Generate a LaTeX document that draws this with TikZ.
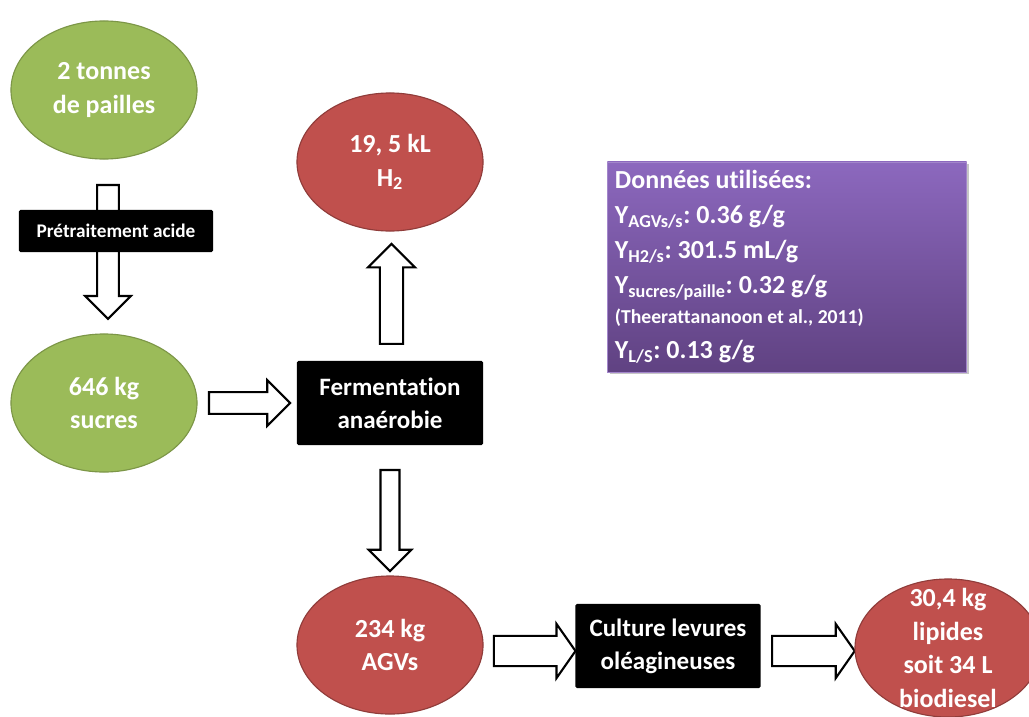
\documentclass[tikz,border=0pt]{standalone}
\usepackage{fontspec}
\setmainfont{Carlito}[Ligatures=NoCommon]
\usetikzlibrary{shapes.geometric, shapes.arrows, shadows, calc, backgrounds}
\definecolor{strawgreen}{HTML}{9BBB59}
\definecolor{prodred}{HTML}{C0504D}
\definecolor{datatop}{RGB}{140,104,190}
\definecolor{databot}{RGB}{96,66,130}
\frenchspacing
\tikzset{
  bio green/.style={
    ellipse, draw=strawgreen!80!black, fill=strawgreen, line width=0.8pt,
    minimum width=4.65cm, minimum height=3.45cm, inner sep=0pt,
    text=white, align=center,
    font=\fontsize{18.5}{24}\selectfont\bfseries
  },
  bio red/.style={
    bio green, draw=prodred!75!black, fill=prodred
  },
  proc box/.style={
    rectangle, rounded corners=1pt, fill=black, text=white,
    align=center, font=\fontsize{17.8}{23.4}\selectfont\bfseries
  },
  data box/.style={
    rectangle, top color=datatop, bottom color=databot,
    draw=datatop!80!white, line width=0.4pt,
    drop shadow={shadow xshift=1.5pt, shadow yshift=-1.5pt, opacity=0.45},
    text=white, align=flush left, text width=8.6cm,
    minimum width=8.975cm, minimum height=5.25cm,
    font=\fontsize{18.5}{24.8}\selectfont\bfseries
  },
  fat arrow/.style={
    inner sep=7pt, single arrow head extend=8.5pt,
    to path={let \p1=(\tikztostart), \p2=(\tikztotarget),
      \n1={veclen(\x2-\x1,\y2-\y1)} in
      (\tikztostart) -- (\tikztotarget)
      node[midway, sloped, allow upside down, single arrow, draw=black,
           fill=white, line width=1.5pt, minimum height=\n1] {}}
  }
}
\begin{document}
\begin{tikzpicture}[x=0.025cm, y=-0.025cm]
  \useasboundingbox (0,0) rectangle (1029,716);

  % bulles
  \node (paille) [bio green] at (104,90) {2 tonnes\\de pailles};
  \node (sucres) [bio green] at (104,403) {646 kg\\sucres};
  \node (h2) [bio red] at (390,162) {19, 5 kL\\H\textsubscript{2}};
  \node (agv) [bio red] at (390,645) {234 kg\\AGVs};
  \node (bio) [bio red, label={[text=white, align=center,
      font=\fontsize{18.5}{24}\selectfont\bfseries]center:30,4 kg\\lipides\\soit 34 L\\biodiesel}]
      at (948,648) {};

  % etapes
  \node (pretr) [proc box, minimum width=4.85cm, minimum height=1.05cm,
      font=\fontsize{13.7}{16}\selectfont\bfseries] at (116,231) {Prétraitement acide};
  \node (ferm) [proc box, minimum width=4.65cm, minimum height=2.1cm]
      at (390,403) {Fermentation\\anaérobie};
  \node (cult) [proc box, minimum width=4.625cm, minimum height=2.1cm]
      at (668,646) {Culture levures\\oléagineuses};

  % fleches
  \begin{pgfonlayer}{background}
  \path [fat arrow] ($(paille.south)+(4,20)$) to ($(sucres.north)+(4,-20)$);
  \path [fat arrow] ($(sucres.east)+(6,0)$) to ($(ferm.west)+(-12,0)$);
  \path [fat arrow, inner sep=7.5pt] ($(ferm.north)+(1.5,-11)$) to ($(h2.south)+(1.5,18)$);
  \path [fat arrow, inner sep=6pt] ($(ferm.south)+(0,20)$) to ($(agv.north)+(0,-9)$);
  \path [fat arrow, inner sep=10pt, single arrow tip angle=110]
      ($(agv.east)+(5,6)$) to ($(cult.west)+(-5,5)$);
  \path [fat arrow, inner sep=10pt, single arrow tip angle=110]
      ($(cult.east)+(6,5)$) to ($(bio.west)+(-5,3)$);
  \end{pgfonlayer}

  % donnees
  \node (data) [data box] at (787,267) {Données utilisées:\\
    Y\textsubscript{AGVs/s}: 0.36 g/g\\
    Y\textsubscript{H2/s}: 301.5 mL/g\\
    Y\textsubscript{sucres/paille}: 0.32 g/g\\[-3pt]
    {\fontsize{14}{17}\selectfont (Theerattananoon et al., 2011)}\\
    Y\textsubscript{L/S}: 0.13 g/g};
\end{tikzpicture}
\end{document}
